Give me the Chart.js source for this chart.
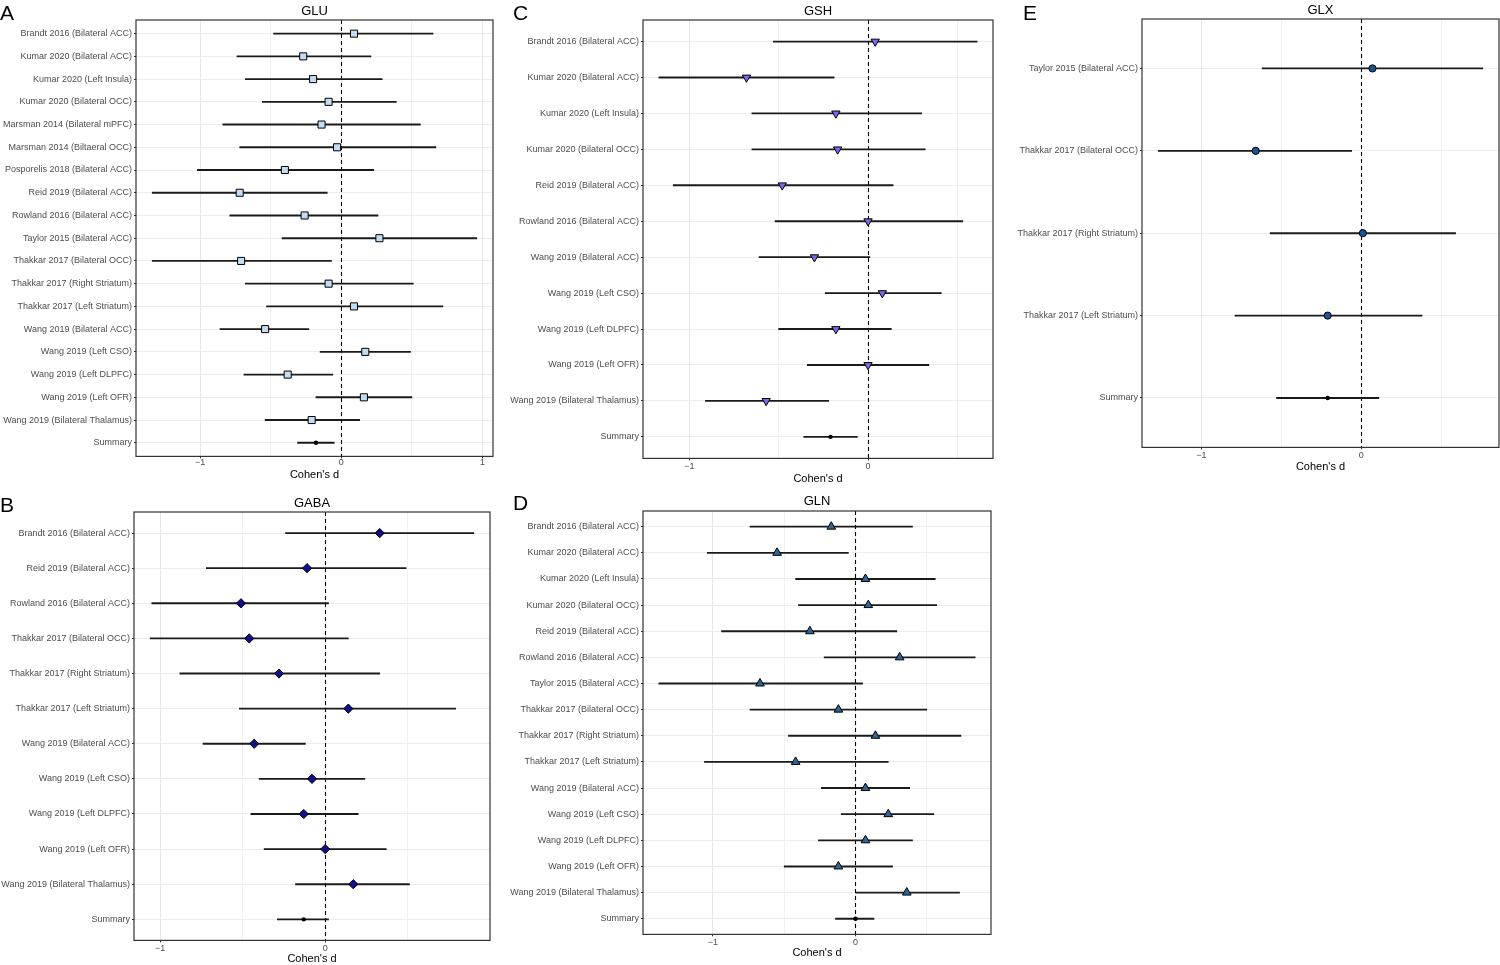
<!DOCTYPE html>
<html>
<head>
<meta charset="utf-8">
<script src="https://cdn.jsdelivr.net/npm/chart.js@4.4.1/dist/chart.umd.min.js"></script>
<style>
  html, body { margin: 0; padding: 0; background: #fff; }
  body { width: 1500px; height: 965px; position: relative; overflow: hidden;
         font-family: 'Liberation Sans', Arial, Helvetica, sans-serif; }
  .panel-letter { position: absolute; font-size: 21px; line-height: 1; color: #000; }
  .panel-title  { position: absolute; font-size: 13px; line-height: 1; color: #000;
                  transform: translate(-50%, -50%); white-space: nowrap; }
  canvas { position: absolute; }
</style>
</head>
<body>
<script>
// ---- data: Cohen's d with 95% CI, last row is the pooled summary ----
const gluLabels = ['Brandt 2016 (Bilateral ACC)', 'Kumar 2020 (Bilateral ACC)', 'Kumar 2020 (Left Insula)',
  'Kumar 2020 (Bilateral OCC)', 'Marsman 2014 (Bilateral mPFC)', 'Marsman 2014 (Biltaeral OCC)',
  'Posporelis 2018 (Bilateral ACC)', 'Reid 2019 (Bilateral ACC)', 'Rowland 2016 (Bilateral ACC)',
  'Taylor 2015 (Bilateral ACC)', 'Thakkar 2017 (Bilateral OCC)', 'Thakkar 2017 (Right Striatum)',
  'Thakkar 2017 (Left Striatum)', 'Wang 2019 (Bilateral ACC)', 'Wang 2019 (Left CSO)',
  'Wang 2019 (Left DLPFC)', 'Wang 2019 (Left OFR)', 'Wang 2019 (Bilateral Thalamus)', 'Summary'];
const gluEst = [0.09, -0.27, -0.20, -0.09, -0.14, -0.03, -0.40, -0.72, -0.26, 0.27, -0.71, -0.09, 0.09, -0.54, 0.17, -0.38, 0.16, -0.21, -0.18];
const gluLo  = [-0.48, -0.74, -0.68, -0.56, -0.84, -0.72, -1.02, -1.34, -0.79, -0.42, -1.34, -0.68, -0.53, -0.86, -0.15, -0.69, -0.18, -0.54, -0.31];
const gluHi  = [0.65, 0.21, 0.29, 0.39, 0.56, 0.67, 0.23, -0.10, 0.26, 0.96, -0.07, 0.51, 0.72, -0.23, 0.49, -0.06, 0.50, 0.13, -0.05];

const gabaLabels = ['Brandt 2016 (Bilateral ACC)', 'Reid 2019 (Bilateral ACC)', 'Rowland 2016 (Bilateral ACC)',
  'Thakkar 2017 (Bilateral OCC)', 'Thakkar 2017 (Right Striatum)', 'Thakkar 2017 (Left Striatum)',
  'Wang 2019 (Bilateral ACC)', 'Wang 2019 (Left CSO)', 'Wang 2019 (Left DLPFC)', 'Wang 2019 (Left OFR)',
  'Wang 2019 (Bilateral Thalamus)', 'Summary'];
const gabaEst = [0.33, -0.11, -0.51, -0.46, -0.28, 0.14, -0.43, -0.08, -0.13, 0.00, 0.17, -0.13];
const gabaLo  = [-0.24, -0.72, -1.05, -1.06, -0.88, -0.52, -0.74, -0.40, -0.45, -0.37, -0.18, -0.29];
const gabaHi  = [0.90, 0.49, 0.02, 0.14, 0.33, 0.79, -0.12, 0.24, 0.20, 0.37, 0.51, 0.02];

const gshLabels = ['Brandt 2016 (Bilateral ACC)', 'Kumar 2020 (Bilateral ACC)', 'Kumar 2020 (Left Insula)',
  'Kumar 2020 (Bilateral OCC)', 'Reid 2019 (Bilateral ACC)', 'Rowland 2016 (Bilateral ACC)',
  'Wang 2019 (Bilateral ACC)', 'Wang 2019 (Left CSO)', 'Wang 2019 (Left DLPFC)', 'Wang 2019 (Left OFR)',
  'Wang 2019 (Bilateral Thalamus)', 'Summary'];
const gshEst = [0.04, -0.68, -0.18, -0.17, -0.48, 0.00, -0.30, 0.08, -0.18, 0.00, -0.57, -0.21];
const gshLo  = [-0.53, -1.17, -0.65, -0.65, -1.09, -0.52, -0.61, -0.24, -0.50, -0.34, -0.91, -0.36];
const gshHi  = [0.61, -0.19, 0.30, 0.32, 0.14, 0.53, 0.01, 0.41, 0.13, 0.34, -0.22, -0.06];

const glnLabels = ['Brandt 2016 (Bilateral ACC)', 'Kumar 2020 (Bilateral ACC)', 'Kumar 2020 (Left Insula)',
  'Kumar 2020 (Bilateral OCC)', 'Reid 2019 (Bilateral ACC)', 'Rowland 2016 (Bilateral ACC)',
  'Taylor 2015 (Bilateral ACC)', 'Thakkar 2017 (Bilateral OCC)', 'Thakkar 2017 (Right Striatum)',
  'Thakkar 2017 (Left Striatum)', 'Wang 2019 (Bilateral ACC)', 'Wang 2019 (Left CSO)',
  'Wang 2019 (Left DLPFC)', 'Wang 2019 (Left OFR)', 'Wang 2019 (Bilateral Thalamus)', 'Summary'];
const glnEst = [-0.17, -0.55, 0.07, 0.09, -0.32, 0.31, -0.67, -0.12, 0.14, -0.42, 0.07, 0.23, 0.07, -0.12, 0.36, 0.00];
const glnLo  = [-0.74, -1.04, -0.42, -0.40, -0.94, -0.22, -1.38, -0.74, -0.47, -1.06, -0.24, -0.10, -0.26, -0.50, 0.00, -0.14];
const glnHi  = [0.40, -0.05, 0.56, 0.57, 0.29, 0.84, 0.05, 0.50, 0.74, 0.23, 0.38, 0.55, 0.40, 0.26, 0.73, 0.13];

const glxLabels = ['Taylor 2015 (Bilateral ACC)', 'Thakkar 2017 (Bilateral OCC)', 'Thakkar 2017 (Right Striatum)',
  'Thakkar 2017 (Left Striatum)', 'Summary'];
const glxEst = [0.07, -0.66, 0.01, -0.21, -0.21];
const glxLo  = [-0.62, -1.27, -0.57, -0.79, -0.53];
const glxHi  = [0.76, -0.06, 0.59, 0.38, 0.11];

// ---- layout (page pixels) ----
const FONT = "'Liberation Sans', Arial, Helvetica, sans-serif";
Chart.defaults.font.family = FONT;
Chart.defaults.animation = false;

const panels = [
  { letter: 'A', title: 'GLU',  labels: gluLabels,  est: gluEst,  lo: gluLo,  hi: gluHi,
    style: 'rect', rot: 0, radius: 5, fill: '#c3dcf2',
    x0: 0, L: 136, R: 493, T: 20, B: 457, tickY: 463, xlabY: 476, titleY: 10,
    letterX: 0, letterY: 2 },
  { letter: 'B', title: 'GABA', labels: gabaLabels, est: gabaEst, lo: gabaLo, hi: gabaHi,
    style: 'rectRot', rot: 0, radius: 4.6, fill: '#10108a',
    x0: 0, L: 134, R: 490, T: 512, B: 941, tickY: 949, xlabY: 960, titleY: 502,
    letterX: 0, letterY: 494 },
  { letter: 'C', title: 'GSH',  labels: gshLabels,  est: gshEst,  lo: gshLo,  hi: gshHi,
    style: 'triangle', rot: 180, radius: 4.8, fill: '#7b68ee',
    x0: 500, L: 643, R: 993, T: 20, B: 459, tickY: 467, xlabY: 480, titleY: 10,
    letterX: 513, letterY: 2 },
  { letter: 'D', title: 'GLN',  labels: glnLabels,  est: glnEst,  lo: glnLo,  hi: glnHi,
    style: 'triangle', rot: 0, radius: 5, fill: '#2f6596',
    x0: 500, L: 643, R: 991, T: 511, B: 935, tickY: 943, xlabY: 954, titleY: 500,
    letterX: 513, letterY: 492 },
  { letter: 'E', title: 'GLX',  labels: glxLabels,  est: glxEst,  lo: glxLo,  hi: glxHi,
    style: 'circle', rot: 0, radius: 3.6, fill: '#1c5390',
    x0: 1000, L: 1142, R: 1499, T: 19, B: 448, tickY: 456, xlabY: 468, titleY: 9,
    letterX: 1023, letterY: 2 },
];

const frame = {
  id: 'frame',
  beforeDatasetsDraw(chart) {
    const { ctx, chartArea: a } = chart;
    const x = Math.round(chart.scales.x.getPixelForValue(0)) + 0.5;
    ctx.save();
    ctx.strokeStyle = '#000';
    ctx.lineWidth = 1.1;
    ctx.setLineDash([4, 3]);
    ctx.beginPath();
    ctx.moveTo(x, a.top);
    ctx.lineTo(x, a.bottom);
    ctx.stroke();
    ctx.restore();
  },
  afterDraw(chart) {
    const { ctx, chartArea: a } = chart;
    ctx.save();
    ctx.strokeStyle = '#333';
    ctx.lineWidth = 1.2;
    ctx.strokeRect(a.left, a.top, a.right - a.left, a.bottom - a.top);
    ctx.restore();
  }
};

function fmt(v) {
  if (v === 0) return '0';
  return (v < 0 ? '\u2212' : '') + Math.abs(v);
}

function addText(cls, text, left, top) {
  const d = document.createElement('div');
  d.className = cls;
  d.textContent = text;
  d.style.left = left + 'px';
  d.style.top = top + 'px';
  document.body.appendChild(d);
}

panels.forEach(p => {
  const n = p.labels.length;
  const last = n - 1;
  const padTop = 2, padRight = 1;
  const xH = p.xlabY - p.B + 6.6;
  const tickPad = Math.max(0, p.tickY - p.B - 6.5);

  // ggplot-style 5% expansion on the data range
  const lo = Math.min(...p.lo), hi = Math.max(...p.hi);
  const ext = (hi - lo) * 0.05;
  const xMin = lo - ext, xMax = hi + ext;

  const canvas = document.createElement('canvas');
  canvas.width = p.R - p.x0 + padRight;
  canvas.height = (p.B - p.T) + padTop + xH;
  canvas.style.left = p.x0 + 'px';
  canvas.style.top = (p.T - padTop) + 'px';
  document.body.appendChild(canvas);

  addText('panel-letter', p.letter, p.letterX, p.letterY);
  addText('panel-title', p.title, (p.L + p.R) / 2, p.titleY);

  const studies = p.est.slice(0, last).map((v, i) => ({ x: v, y: i }));
  const summary = [{ x: p.est[last], y: last }];
  const ci = p.lo.map((v, i) => ({ x: [v, p.hi[i]], y: i }));

  new Chart(canvas, {
    type: 'bar',
    data: {
      datasets: [
        {
          type: 'scatter',
          data: studies,
          order: 0,
          pointStyle: p.style,
          rotation: p.rot,
          pointRadius: p.radius,
          backgroundColor: p.fill,
          borderColor: '#000',
          borderWidth: 1,
        },
        {
          type: 'scatter',
          data: summary,
          order: 1,
          pointStyle: 'circle',
          pointRadius: 2.2,
          backgroundColor: '#000',
          borderColor: '#000',
          borderWidth: 0,
        },
        {
          type: 'bar',
          data: ci,
          order: 5,
          barThickness: 1.2,
          backgroundColor: '#1a1a1a',
          borderWidth: 0,
          grouped: false,
        },
      ],
    },
    options: {
      indexAxis: 'y',
      responsive: false,
      events: [],
      layout: { autoPadding: false, padding: { top: padTop, right: padRight, left: 0, bottom: 0 } },
      plugins: { legend: { display: false }, tooltip: { enabled: false } },
      scales: {
        x: {
          type: 'linear',
          min: xMin,
          max: xMax,
          offset: false,
          afterBuildTicks: s => {
            s.ticks = [-1, -0.5, 0, 0.5, 1].filter(v => v > xMin && v < xMax).map(v => ({ value: v }));
          },
          afterFit: s => { s.height = xH; s.paddingLeft = 0; s.paddingRight = 0; },
          ticks: {
            autoSkip: false,
            maxRotation: 0,
            padding: tickPad,
            color: '#4d4d4d',
            font: { size: 9, lineHeight: 1 },
            callback: v => Number.isInteger(v) ? fmt(v) : '',
          },
          grid: {
            offset: false,
            color: c => Number.isInteger(c.tick.value) ? '#e6e6e6' : '#f1f1f1',
            lineWidth: 1,
            tickLength: 2,
            tickColor: c => Number.isInteger(c.tick.value) ? '#333' : 'rgba(0,0,0,0)',
          },
          border: { display: false },
          title: {
            display: true,
            text: "Cohen's d",
            color: '#000',
            font: { size: 11, lineHeight: 1.2 },
            padding: { top: 0, bottom: 0 },
          },
        },
        y: {
          type: 'linear',
          reverse: true,
          min: -0.6,
          max: last + 0.6,
          offset: false,
          afterBuildTicks: s => { s.ticks = p.labels.map((_, i) => ({ value: i })); },
          afterFit: s => { s.width = p.L - p.x0; s.paddingTop = 0; s.paddingBottom = 0; },
          ticks: {
            autoSkip: false,
            padding: 2,
            color: '#4d4d4d',
            font: { size: 9 },
            callback: v => p.labels[v],
          },
          grid: {
            offset: false,
            color: '#ececec',
            lineWidth: 1,
            tickLength: 2,
            tickColor: '#333',
          },
          border: { display: false },
        },
      },
    },
    plugins: [frame],
  });
});
</script>
</body>
</html>
